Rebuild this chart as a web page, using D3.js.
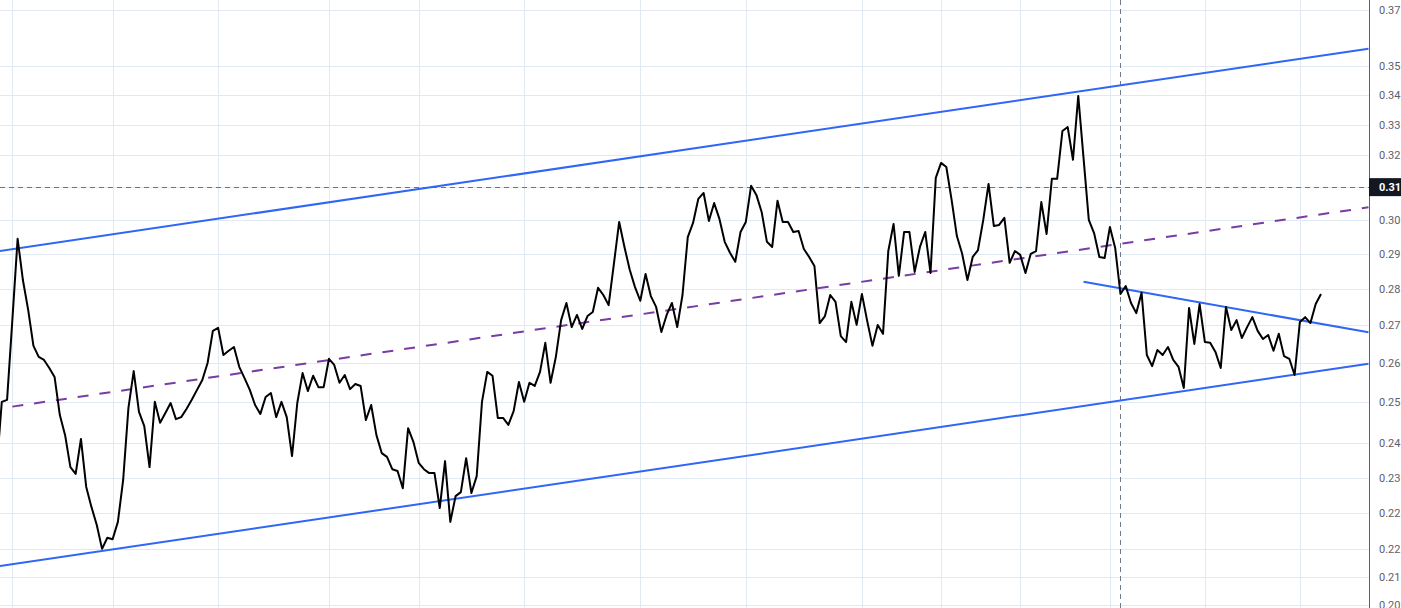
<!DOCTYPE html>
<html><head><meta charset="utf-8">
<script src="https://cdn.jsdelivr.net/npm/d3@7"></script>
<style>html,body{margin:0;padding:0;background:#fff;overflow:hidden}</style>
</head><body><svg id="c" width="1401" height="608"></svg>
<script>
// ---- data ----
const prices = [0.2336,0.2501,0.2506,0.2714,0.2944,0.2825,0.2742,0.2645,0.2616,0.2608,
0.2587,0.2564,0.2468,0.2419,0.2343,0.2327,0.2410,0.2297,0.2251,0.2211,
0.2159,0.2183,0.2180,0.2218,0.2313,0.2486,0.2579,0.2476,0.2441,0.2343,
0.2501,0.2449,0.2473,0.2498,0.2458,0.2463,0.2483,0.2506,0.2531,0.2556,
0.2600,0.2685,0.2693,0.2621,0.2632,0.2642,0.2590,0.2561,0.2531,0.2493,
0.2471,0.2513,0.2523,0.2463,0.2501,0.2463,0.2369,0.2498,0.2574,0.2528,
0.2567,0.2538,0.2538,0.2611,0.2595,0.2549,0.2569,0.2533,0.2546,0.2541,
0.2456,0.2493,0.2419,0.2376,0.2367,0.2338,0.2334,0.2294,0.2436,0.2403,
0.2353,0.2338,0.2329,0.2329,0.2249,0.2357,0.2218,0.2276,0.2285,0.2364,
0.2283,0.2322,0.2501,0.2577,0.2567,0.2461,0.2461,0.2444,0.2478,0.2551,
0.2501,0.2549,0.2541,0.2577,0.2653,0.2549,0.2616,0.2714,0.2761,0.2695,
0.2728,0.2690,0.2725,0.2736,0.2803,0.2783,0.2755,0.2871,0.2994,0.2920,
0.2854,0.2805,0.2767,0.2842,0.2780,0.2750,0.2682,0.2728,0.2761,0.2695,
0.2783,0.2949,0.2991,0.3064,0.3082,0.2997,0.3051,0.3003,0.2935,0.2903,
0.2877,0.2964,0.2994,0.3104,0.3076,0.3024,0.2935,0.2920,0.3058,0.2994,
0.2994,0.2964,0.2967,0.2914,0.2891,0.2865,0.2706,0.2725,0.2783,0.2764,
0.2671,0.2655,0.2764,0.2701,0.2786,0.2712,0.2645,0.2701,0.2677,0.2908,
0.2988,0.2837,0.2964,0.2964,0.2848,0.2920,0.2964,0.2845,0.3129,0.3176,
0.3163,0.3061,0.2952,0.2900,0.2825,0.2891,0.2911,0.3000,0.3110,0.2982,
0.2985,0.3006,0.2874,0.2908,0.2897,0.2845,0.2900,0.2908,0.3054,0.2958,
0.3126,0.3126,0.3279,0.3292,0.3186,0.3396,0.3192,0.3000,0.2961,0.2891,
0.2888,0.2979,0.2917,0.2786,0.2808,0.2761,0.2733,0.2789,0.2621,0.2592,
0.2634,0.2621,0.2642,0.2608,0.2590,0.2536,0.2747,0.2650,0.2758,0.2655,
0.2653,0.2629,0.2587,0.2750,0.2687,0.2714,0.2666,0.2695,0.2722,0.2685,
0.2663,0.2674,0.2632,0.2677,0.2618,0.2611,0.2569,0.2709,0.2722,0.2706,
0.2758,0.2786];

// price-axis tick values (log scale marks) and their labels
const yTickValues = [0.37,0.35,0.34,0.33,0.32,0.31,0.30,0.29,0.28,0.27,0.26,0.25,0.24,0.2318,0.2238,0.2159,0.2099,0.2041];
// time grid lines (bar index)
const timeGridIdx = [3,22,42,63,80,100,122,142,164,179,194,211,229,247];

// drawn trend lines: [barIndex, price]
const channelUpper = [[0,0.2907],[260,0.3560]];
const channelLower = [[0,0.2121],[260,0.2598]];
const channelMid   = [[3,0.2489],[260,0.3038]];
const wedgeUpper   = [[206,0.2820],[260,0.2681]];

// crosshair
const crossIdx = 213;
const crossPrice = 0.31;

// visible window
const xWindow = [0.66, 260.1];
const yWindow = [0.2035, 0.3738];

// ---- drawing ----
const W = 1401, H = 608, plotRight = 1369;
const svg = d3.select('#c');
const x = d3.scaleLinear().domain(xWindow).range([0, plotRight]);
const y = d3.scaleLog().domain(yWindow).range([H, 0]);

svg.append('rect').attr('width', W).attr('height', H).attr('fill', '#fff');
svg.append('defs').append('clipPath').attr('id','clip')
  .append('rect').attr('x',0).attr('y',0).attr('width',plotRight).attr('height',H);

const grid = svg.append('g').attr('clip-path','url(#clip)');
grid.selectAll('line.h').data(yTickValues).join('line')
  .attr('x1',0).attr('x2',plotRight)
  .attr('y1',d=>Math.round(y(d))+0.5).attr('y2',d=>Math.round(y(d))+0.5)
  .attr('stroke','#e1e9f2').attr('stroke-width',1);
grid.selectAll('line.v').data(timeGridIdx).join('line')
  .attr('y1',0).attr('y2',H)
  .attr('x1',d=>Math.round(x(d))+0.5).attr('x2',d=>Math.round(x(d))+0.5)
  .attr('stroke','#e1e9f2').attr('stroke-width',1);

const plot = svg.append('g').attr('clip-path','url(#clip)');
const seg = d3.line().x(d=>x(d[0])).y(d=>y(d[1]));

// crosshair
plot.append('line').attr('x1',Math.round(x(crossIdx))+0.5).attr('x2',Math.round(x(crossIdx))+0.5)
  .attr('y1',0).attr('y2',H).attr('stroke','#6f7a8a').attr('stroke-width',1).attr('stroke-dasharray','5,4');
plot.append('line').attr('x1',0).attr('x2',plotRight)
  .attr('y1',Math.round(y(crossPrice))+0.5).attr('y2',Math.round(y(crossPrice))+0.5)
  .attr('stroke','#6f7278').attr('stroke-width',1).attr('stroke-dasharray','5,4');

[channelUpper, channelLower, wedgeUpper].forEach(l=>{
  plot.append('path').attr('d',seg(l)).attr('fill','none').attr('stroke','#2f66f6').attr('stroke-width',2);
});
plot.append('path').attr('d',seg(channelMid)).attr('fill','none')
  .attr('stroke','#7b3ba3').attr('stroke-width',2).attr('stroke-dasharray','11,11');

const priceLine = d3.line().x((d,i)=>x(i)).y(d=>y(d));
plot.append('path').attr('d',priceLine(prices)).attr('fill','none')
  .attr('stroke','#000').attr('stroke-width',2).attr('stroke-linejoin','round');

// price axis
svg.append('line').attr('x1',plotRight+0.5).attr('x2',plotRight+0.5).attr('y1',0).attr('y2',H)
  .attr('stroke','#5d606b').attr('stroke-width',1);
const axis = d3.axisRight(y).tickValues(yTickValues).tickFormat(d=>d.toFixed(2)).tickSize(0).tickPadding(10);
const ag = svg.append('g').attr('transform',`translate(${plotRight},0)`).call(axis);
ag.select('.domain').remove();
ag.selectAll('text').attr('font-family','Roboto, Arial, sans-serif').attr('font-size',11).attr('fill','#5d606b');

// current crosshair price label
const ly = y(crossPrice);
svg.append('rect').attr('x',plotRight).attr('y',ly-9).attr('width',W-plotRight).attr('height',18).attr('fill','#131722');
svg.append('text').attr('x',plotRight+10).attr('y',ly).attr('dy','0.35em')
  .attr('font-family','Roboto, Arial, sans-serif').attr('font-size',11).attr('font-weight','bold')
  .attr('fill','#fff').text(crossPrice.toFixed(2));
</script></body></html>
